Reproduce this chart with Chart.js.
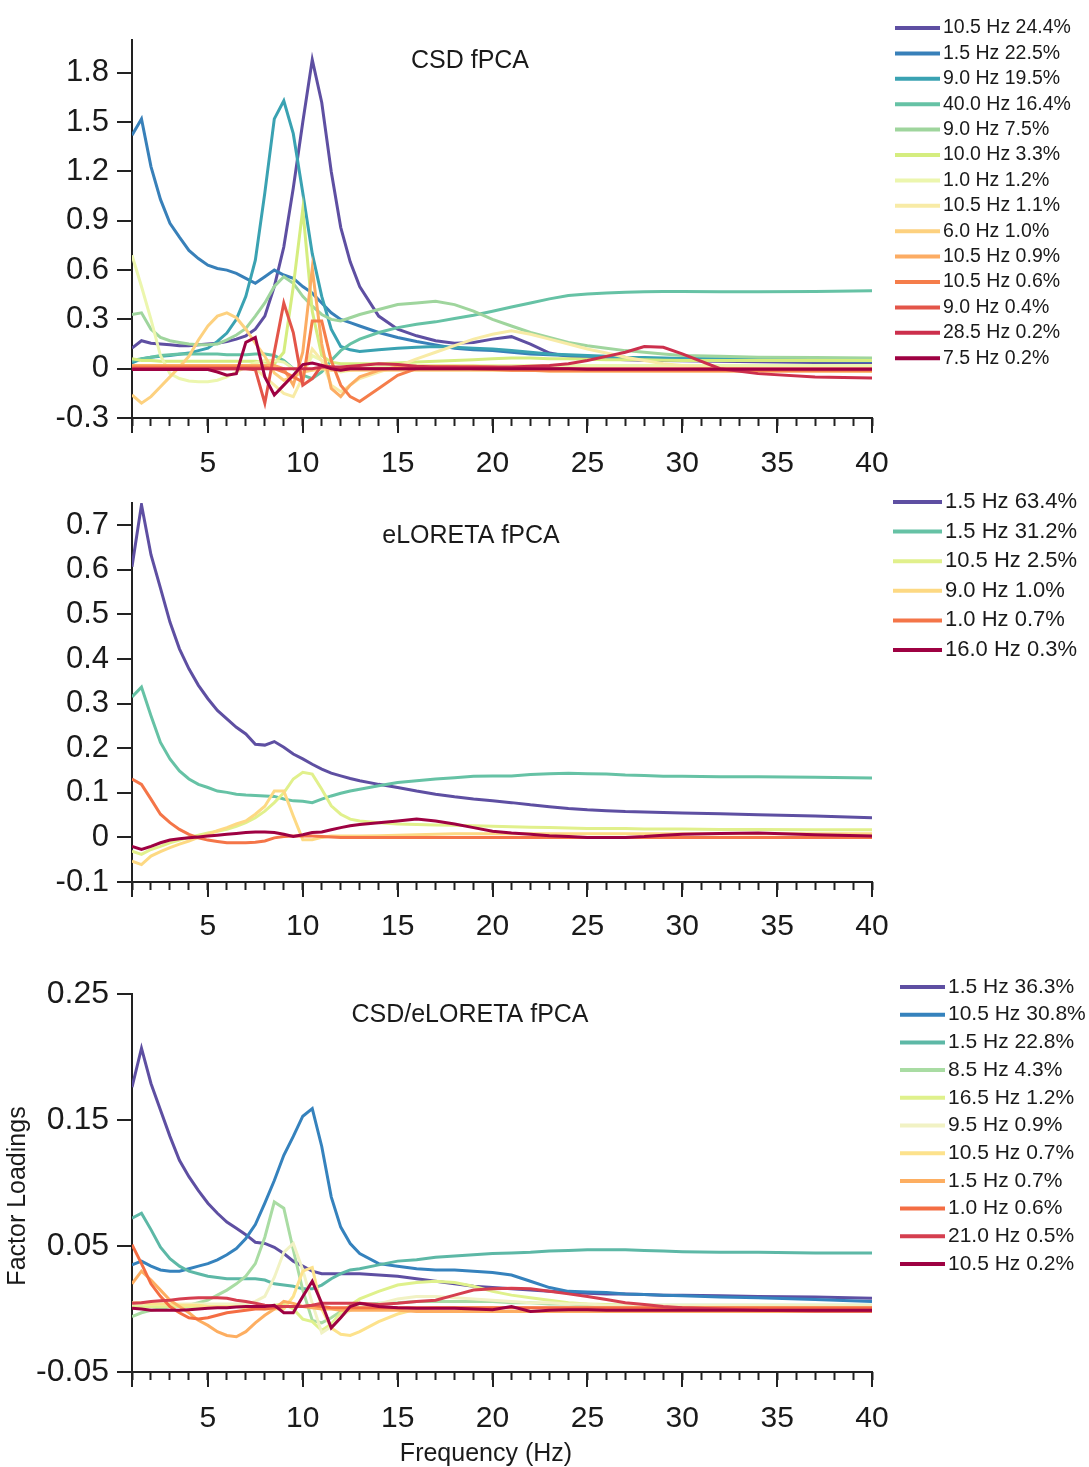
<!DOCTYPE html>
<html>
<head>
<meta charset="utf-8">
<title>fPCA factor loadings</title>
<script src="https://cdn.jsdelivr.net/npm/chart.js@4.4.1/dist/chart.umd.min.js"></script>
<style>
  html, body { margin: 0; padding: 0; background: #fff; }
  body { width: 1089px; height: 1467px; position: relative; overflow: hidden; }
  canvas { position: absolute; left: 0; }
</style>
</head>
<body>
<canvas id="csdChart" width="1089" height="485" style="top:0px"></canvas>
<canvas id="eloretaChart" width="1089" height="460" style="top:485px"></canvas>
<canvas id="bothChart" width="1089" height="522" style="top:945px"></canvas>
<script>
// frequency grid (Hz) shared by all three panels
var freqs = [1,1.5,2,2.5,3,3.5,4,4.5,5,5.5,6,6.5,7,7.5,8,8.5,9,9.5,10,10.5,11,11.5,12,12.5,13,
  14,15,16,17,18,19,20,21,22,23,24,
  25,26,27,28,29,30,32,34,37,40];
var xTickLabels = [5,10,15,20,25,30,35,40];

// ---- panel 1: CSD fPCA ----
var csdTicks = [-0.3,0,0.3,0.6,0.9,1.2,1.5,1.8];
var csdLabels = ["10.5 Hz 24.4%","1.5 Hz 22.5%","9.0 Hz 19.5%","40.0 Hz 16.4%","9.0 Hz 7.5%","10.0 Hz 3.3%","1.0 Hz 1.2%",
  "10.5 Hz 1.1%","6.0 Hz 1.0%","10.5 Hz 0.9%","10.5 Hz 0.6%","9.0 Hz 0.4%","28.5 Hz 0.2%","7.5 Hz 0.2%"];
var csdColors = ['#5e4fa2','#3880b9','#3aa2b2','#66c2a5','#9fd59d','#d5ed7f','#ecf6ae',
  '#f8eba6','#fdd17f','#fcac63','#f57d4a','#e35549','#cc2f4c','#9e0142'];
var csdValues = [
  [0.125,0.17,0.155,0.15,0.145,0.14,0.14,0.145,0.15,0.155,0.165,0.18,0.2,0.24,0.32,0.5,0.74,1.1,1.5,1.88,1.62,1.2,0.86,0.65,0.5,
   0.32,0.24,0.2,0.17,0.155,0.16,0.18,0.195,0.15,0.095,0.075,
   0.065,0.06,0.055,0.052,0.05,0.048,0.045,0.042,0.038,0.035],
  [1.42,1.52,1.23,1.03,0.885,0.8,0.72,0.67,0.63,0.61,0.6,0.58,0.55,0.52,0.56,0.6,0.57,0.55,0.5,0.46,0.4,0.34,0.3,0.28,0.26,
   0.22,0.19,0.165,0.145,0.125,0.115,0.11,0.1,0.09,0.085,0.08,
   0.075,0.07,0.065,0.062,0.06,0.058,0.055,0.05,0.048,0.045],
  [0.035,0.06,0.07,0.075,0.08,0.088,0.095,0.11,0.125,0.166,0.217,0.3,0.44,0.66,1.07,1.52,1.63,1.43,1.07,0.7,0.44,0.24,0.135,0.115,0.105,
   0.115,0.125,0.13,0.135,0.13,0.125,0.12,0.11,0.1,0.09,0.085,
   0.08,0.075,0.07,0.068,0.065,0.062,0.06,0.058,0.055,0.055],
  [0.05,0.06,0.07,0.08,0.085,0.09,0.09,0.09,0.09,0.09,0.085,0.085,0.085,0.09,0.09,0.08,0.05,0.0,-0.04,-0.06,-0.02,0.05,0.11,0.15,0.18,
   0.22,0.25,0.27,0.285,0.305,0.325,0.35,0.375,0.4,0.425,0.445,
   0.455,0.46,0.465,0.468,0.47,0.47,0.468,0.468,0.47,0.475],
  [0.33,0.34,0.24,0.19,0.17,0.16,0.15,0.145,0.145,0.15,0.175,0.205,0.245,0.32,0.4,0.5,0.56,0.52,0.44,0.38,0.33,0.3,0.29,0.31,0.33,
   0.36,0.39,0.4,0.41,0.39,0.35,0.3,0.26,0.22,0.19,0.16,
   0.14,0.125,0.11,0.1,0.09,0.08,0.075,0.07,0.068,0.065],
  [0.06,0.05,0.05,0.045,0.045,0.045,0.045,0.045,0.045,0.045,0.045,0.045,0.045,0.045,0.04,0.03,0.1,0.5,0.97,0.35,0.08,0.04,0.03,0.03,0.03,
   0.03,0.035,0.04,0.045,0.05,0.055,0.06,0.065,0.065,0.06,0.06,
   0.058,0.055,0.055,0.055,0.052,0.05,0.05,0.05,0.05,0.05],
  [0.69,0.5,0.3,0.08,-0.03,-0.06,-0.075,-0.08,-0.08,-0.07,-0.05,-0.02,0.01,0.035,0.05,0.05,0.04,0.0,-0.03,0.08,0.05,0.0,-0.02,-0.01,0.0,
   0.01,0.02,0.02,0.02,0.02,0.02,0.02,0.02,0.02,0.02,0.02,
   0.02,0.02,0.02,0.02,0.02,0.02,0.02,0.02,0.02,0.02],
  [0.02,0.02,0.02,0.02,0.02,0.02,0.02,0.02,0.02,0.02,0.02,0.02,0.02,0.0,-0.05,-0.1,-0.15,-0.17,-0.05,0.12,0.05,-0.1,-0.14,-0.1,-0.06,
   -0.02,0.015,0.06,0.1,0.14,0.18,0.21,0.23,0.21,0.18,0.15,
   0.12,0.095,0.07,0.05,0.03,0.02,0.005,-0.005,-0.012,-0.016],
  [-0.16,-0.21,-0.17,-0.11,-0.05,0.01,0.075,0.175,0.26,0.32,0.34,0.31,0.24,0.155,0.075,-0.026,-0.07,-0.05,-0.02,-0.01,0.0,-0.01,-0.01,-0.01,-0.01,
   -0.01,-0.01,-0.01,-0.01,-0.01,-0.01,-0.01,-0.01,-0.01,-0.01,-0.01,
   -0.01,-0.01,-0.01,-0.01,-0.01,-0.01,-0.01,-0.01,-0.01,-0.01],
  [0.02,0.02,0.02,0.02,0.02,0.02,0.02,0.02,0.02,0.02,0.02,0.02,0.02,0.02,0.02,0.02,0.0,-0.1,0.1,0.61,0.15,-0.12,-0.17,-0.1,-0.05,
   -0.01,0.01,0.015,0.015,0.015,0.015,0.01,0.0,-0.01,-0.015,-0.015,
   -0.015,-0.015,-0.015,-0.015,-0.015,-0.015,-0.015,-0.015,-0.015,-0.015],
  [0.01,0.01,0.01,0.01,0.01,0.01,0.01,0.01,0.01,0.01,0.01,0.01,0.01,0.01,0.01,0.0,-0.02,-0.05,-0.08,0.29,0.29,0.05,-0.1,-0.17,-0.2,
   -0.12,-0.04,0.0,0.01,0.01,0.0,-0.005,-0.01,-0.01,-0.01,-0.01,
   -0.01,-0.01,-0.01,-0.01,-0.01,-0.01,-0.01,-0.01,-0.01,-0.01],
  [0,0,0,0,0,0,0,0,0,0,0,0,0,-0.006,-0.21,0.1,0.4,0.22,-0.1,-0.06,0.02,0.01,0,0,0,
   0,0,0,0,0,0,0,0,0,0,0,
   0,0,0,0,0,0,0,0,0,0],
  [0,0,0,0,0,0,0,0,0,0,0,0,0,0,0,0,0,0,0,0,0.01,0.01,0.01,0.015,0.02,
   0.03,0.025,0.015,0.01,0.01,0.01,0.01,0.01,0.015,0.02,0.03,
   0.05,0.075,0.1,0.135,0.13,0.09,0.0,-0.03,-0.05,-0.057],
  [-0.005,-0.005,-0.005,-0.005,-0.005,-0.005,-0.005,-0.005,-0.005,-0.02,-0.04,-0.03,0.16,0.19,-0.05,-0.16,-0.1,-0.04,0.025,0.035,0.02,0.0,-0.01,0.0,0.0,
   0,0,0,0,0,0,0,0,0,0,0,
   -0.004,-0.004,-0.004,-0.004,-0.004,-0.004,-0.004,-0.004,-0.004,-0.004]
];

// ---- panel 2: eLORETA fPCA ----
var eloTicks = [-0.1,0,0.1,0.2,0.3,0.4,0.5,0.6,0.7];
var eloLabels = ["1.5 Hz 63.4%","1.5 Hz 31.2%","10.5 Hz 2.5%","9.0 Hz 1.0%","1.0 Hz 0.7%","16.0 Hz 0.3%"];
var eloColors = ['#5e4fa2','#66c2a5','#e1f08c','#fdd983','#f47548','#9e0142'];
var eloValues = [
  [0.607,0.746,0.634,0.559,0.483,0.423,0.378,0.341,0.311,0.285,0.266,0.247,0.232,0.209,0.207,0.215,0.202,0.187,0.176,0.164,0.153,0.144,0.138,0.132,0.127,
   0.119,0.112,0.104,0.097,0.091,0.086,0.082,0.078,0.073,0.069,0.065,
   0.062,0.06,0.058,0.057,0.056,0.055,0.053,0.051,0.048,0.044],
  [0.315,0.337,0.273,0.213,0.176,0.149,0.131,0.119,0.112,0.104,0.101,0.097,0.095,0.094,0.093,0.092,0.086,0.082,0.081,0.078,0.086,0.093,0.099,0.104,0.108,
   0.116,0.123,0.127,0.131,0.134,0.137,0.138,0.138,0.141,0.143,0.144,
   0.143,0.142,0.14,0.139,0.137,0.137,0.136,0.136,0.135,0.133],
  [-0.031,-0.038,-0.027,-0.02,-0.012,-0.006,0.0,0.005,0.01,0.014,0.018,0.025,0.033,0.044,0.059,0.078,0.1,0.131,0.146,0.142,0.108,0.071,0.052,0.041,0.037,
   0.033,0.03,0.029,0.028,0.027,0.026,0.025,0.024,0.023,0.022,0.021,
   0.02,0.02,0.02,0.019,0.019,0.019,0.018,0.018,0.017,0.017],
  [-0.053,-0.061,-0.042,-0.032,-0.023,-0.015,-0.008,0.0,0.007,0.015,0.022,0.03,0.037,0.052,0.07,0.104,0.104,0.048,-0.005,-0.005,0.0,0.003,0.003,0.003,0.003,
   0.004,0.005,0.006,0.007,0.008,0.008,0.008,0.008,0.008,0.008,0.008,
   0.008,0.008,0.008,0.008,0.008,0.008,0.008,0.008,0.008,0.008],
  [0.131,0.119,0.086,0.052,0.033,0.018,0.007,-0.001,-0.006,-0.009,-0.012,-0.012,-0.012,-0.011,-0.008,-0.001,0.002,0.003,0.003,0.003,0.002,0.001,0,0,0,
   0,0,0,0,0,0,0,0,0,0,0,
   0,0,0,0,0,0,0,0,0,0],
  [-0.02,-0.027,-0.02,-0.012,-0.006,-0.003,-0.001,0.001,0.003,0.005,0.007,0.009,0.011,0.012,0.012,0.011,0.007,0.002,0.006,0.011,0.012,0.017,0.022,0.026,0.029,
   0.033,0.037,0.041,0.037,0.03,0.022,0.014,0.01,0.007,0.004,0.002,
   0,0,0,0.002,0.005,0.007,0.009,0.01,0.006,0.003]
];

// ---- panel 3: CSD/eLORETA fPCA ----
var bothTicks = [-0.05,0.05,0.15,0.25];
var bothLabels = ["1.5 Hz 36.3%","10.5 Hz 30.8%","1.5 Hz 22.8%","8.5 Hz 4.3%","16.5 Hz 1.2%","9.5 Hz 0.9%",
  "10.5 Hz 0.7%","1.5 Hz 0.7%","1.0 Hz 0.6%","21.0 Hz 0.5%","10.5 Hz 0.2%"];
var bothColors = ['#5e4fa2','#3582bd','#5db8a6','#a9dca3','#dff18c','#f1f2c4','#fde28c','#fdae61','#f46d43','#d53e4f','#9e0142'];
var bothValues = [
  [0.176,0.207,0.179,0.158,0.137,0.118,0.105,0.094,0.084,0.076,0.069,0.064,0.059,0.053,0.052,0.049,0.044,0.038,0.034,0.03,0.028,0.028,0.028,0.028,0.028,
   0.027,0.026,0.024,0.022,0.02,0.018,0.017,0.016,0.015,0.014,0.013,
   0.0125,0.012,0.012,0.0115,0.011,0.011,0.0105,0.01,0.0095,0.0085],
  [0.035,0.038,0.034,0.031,0.03,0.03,0.032,0.034,0.036,0.039,0.043,0.048,0.056,0.067,0.084,0.102,0.122,0.137,0.153,0.159,0.129,0.089,0.065,0.052,0.044,
   0.036,0.034,0.032,0.031,0.031,0.03,0.029,0.027,0.022,0.017,0.014,
   0.0135,0.013,0.012,0.0115,0.011,0.0105,0.0095,0.009,0.0075,0.006],
  [0.072,0.076,0.063,0.049,0.04,0.034,0.03,0.028,0.026,0.025,0.024,0.024,0.024,0.024,0.023,0.02,0.019,0.018,0.016,0.016,0.019,0.024,0.028,0.031,0.032,
   0.035,0.038,0.039,0.041,0.042,0.043,0.044,0.0445,0.045,0.046,0.0465,
   0.047,0.047,0.047,0.0465,0.046,0.0455,0.045,0.045,0.0445,0.0445],
  [-0.006,-0.003,-0.001,0.0,0.002,0.002,0.003,0.005,0.007,0.011,0.015,0.02,0.026,0.036,0.057,0.085,0.08,0.047,0.015,-0.009,-0.011,-0.007,-0.002,0.001,0.003,
   0.0045,0.005,0.006,0.006,0.006,0.006,0.006,0.005,0.005,0.004,0.004,
   0.003,0.003,0.003,0.003,0.003,0.003,0.003,0.003,0.003,0.003],
  [0.002,0.002,0.002,0.002,0.002,0.002,0.002,0.002,0.002,0.002,0.002,0.002,0.002,0.002,0.002,0.003,0.004,0.0,-0.008,-0.01,-0.017,-0.012,-0.003,0.003,0.008,
   0.014,0.019,0.021,0.022,0.021,0.018,0.014,0.011,0.009,0.007,0.005,
   0.004,0.0035,0.003,0.0025,0.002,0.002,0.002,0.002,0.002,0.002],
  [0.004,0.004,0.004,0.004,0.004,0.004,0.004,0.004,0.004,0.004,0.004,0.004,0.004,0.006,0.01,0.025,0.045,0.052,0.031,0.0045,-0.019,-0.014,-0.006,-0.001,0.002,
   0.004,0.008,0.01,0.01,0.009,0.008,0.007,0.006,0.005,0.005,0.004,
   0.004,0.003,0.003,0.003,0.003,0.003,0.003,0.003,0.003,0.003],
  [0.005,0.005,0.004,0.004,0.004,0.003,0.003,0.003,0.002,0.002,0.002,0.002,0.001,0.001,0.0,0.0,0.0,0.01,0.03,0.033,0.0,-0.015,-0.02,-0.021,-0.018,
   -0.01,-0.004,0.0,0.001,0.001,0.001,0.001,0.001,0.001,0.001,0.001,
   0.001,0.001,0.001,0.001,0.001,0.001,0.001,0.001,0.001,0.001],
  [0.02,0.03,0.023,0.015,0.007,0.002,-0.003,-0.009,-0.013,-0.018,-0.021,-0.022,-0.018,-0.011,-0.005,0.0,0.006,0.0045,0.002,0.001,0.0,0.0,-0.001,-0.001,-0.001,
   -0.001,-0.001,-0.002,-0.002,-0.002,-0.002,-0.002,-0.002,-0.002,-0.002,-0.002,
   -0.002,-0.002,-0.002,-0.002,-0.002,-0.002,-0.002,-0.002,-0.002,-0.002],
  [0.051,0.036,0.02,0.01,0.002,-0.003,-0.007,-0.008,-0.007,-0.005,-0.003,-0.002,-0.001,0.0,0.0,0.001,0.002,0.002,0.002,0.003,0.002,0.001,0.001,0.001,0.001,
   0.001,0.001,0.001,0.001,0.001,0.001,0.001,0.001,0.001,0.001,0.001,
   0.001,0.001,0.001,0.001,0.001,0.001,0.001,0.001,0.001,0.001],
  [0.0045,0.005,0.006,0.0065,0.007,0.008,0.0085,0.009,0.009,0.009,0.0085,0.007,0.006,0.0045,0.003,0.002,0.002,0.002,0.002,0.003,0.0045,0.0045,0.0045,0.0045,0.0045,
   0.0035,0.0045,0.006,0.007,0.011,0.015,0.016,0.0165,0.016,0.014,0.012,
   0.01,0.0075,0.005,0.0035,0.002,0.001,0.0,-0.001,-0.0015,-0.0015],
  [0.0005,0.0,-0.001,-0.001,-0.001,-0.001,-0.0005,0.0,0.0005,0.001,0.001,0.0015,0.002,0.002,0.002,0.003,-0.003,-0.003,0.01,0.022,0.0045,-0.015,-0.007,0.002,0.0045,
   0.002,0.001,0.0005,0.0005,0.0005,0.0,-0.0005,0.002,-0.002,-0.001,-0.0005,
   -0.0005,-0.001,-0.001,-0.001,-0.001,-0.001,-0.001,-0.001,-0.001,-0.001]
];

var FONT = "'Liberation Sans', Arial, sans-serif";
var INK = '#1a1a1a';
Chart.defaults.font.family = FONT;
Chart.defaults.color = INK;

function makeDatasets(labels, colors, values) {
  return values.map(function(v, i) {
    return {
      label: labels[i],
      data: v,
      borderColor: colors[i],
      backgroundColor: colors[i],
      borderWidth: 3,
      pointRadius: 0,
      tension: 0,
      fill: false,
      order: -i   // later components drawn on top
    };
  });
}

// titles, axis titles and the line legend are drawn after the chart
function decor(texts, lg) {
  return {
    id: 'decor',
    afterDraw: function(chart) {
      var ctx = chart.ctx;
      ctx.save();
      ctx.fillStyle = INK;
      ctx.textBaseline = 'middle';
      texts.forEach(function(t) {
        ctx.save();
        ctx.font = t.size + 'px ' + FONT;
        ctx.textAlign = 'center';
        ctx.translate(t.x, t.y);
        if (t.rotate) ctx.rotate(t.rotate);
        ctx.fillText(t.text, 0, 0);
        ctx.restore();
      });
      chart.data.datasets.forEach(function(ds, i) {
        var y = lg.y + i * lg.gap;
        ctx.strokeStyle = ds.borderColor;
        ctx.lineWidth = 4;
        ctx.beginPath();
        ctx.moveTo(lg.x, y);
        ctx.lineTo(lg.x + lg.len, y);
        ctx.stroke();
        ctx.font = lg.size + 'px ' + FONT;
        ctx.textAlign = 'left';
        ctx.fillText(ds.label, lg.x + lg.len + 3, y);
      });
      ctx.restore();
    }
  };
}

function scalesFor(yMin, yMax, yTicks, decimals, yFont, xHeight, xPad) {
  return {
    xMinor: {
      axis: 'x', type: 'linear', position: 'bottom', weight: 0,
      min: 1, max: 40,
      ticks: { display: false, stepSize: 1, maxTicksLimit: 100 },
      grid: { drawOnChartArea: false, drawTicks: true, tickLength: 8, tickWidth: 2, tickColor: '#222' },
      border: { display: false },
      afterFit: function(s) { s.height = 0; s.paddingLeft = 0; s.paddingRight = 0; }
    },
    x: {
      type: 'linear', position: 'bottom', weight: 1,
      min: 1, max: 40,
      afterBuildTicks: function(s) {
        s.ticks = [1].concat(xTickLabels).map(function(v) { return { value: v }; });
      },
      ticks: {
        autoSkip: false, maxRotation: 0, padding: xPad,
        font: { size: 30 }, color: INK,
        callback: function(v) { return xTickLabels.indexOf(v) >= 0 ? String(v) : ''; }
      },
      grid: { drawOnChartArea: false, drawTicks: true, tickLength: 15, tickWidth: 2, lineWidth: 2, tickColor: '#222' },
      border: { display: true, color: '#222', width: 2 },
      afterFit: function(s) { s.height = xHeight; s.paddingLeft = 0; s.paddingRight = 0; }
    },
    y: {
      type: 'linear', min: yMin, max: yMax,
      afterBuildTicks: function(s) {
        s.ticks = yTicks.map(function(v) { return { value: v }; });
      },
      ticks: {
        padding: 8, font: { size: yFont }, color: INK,
        callback: function(v) { return v === 0 ? '0' : v.toFixed(decimals); }
      },
      grid: { drawOnChartArea: false, drawTicks: true, tickLength: 15, tickWidth: 2, lineWidth: 2, tickColor: '#222' },
      border: { display: true, color: '#222', width: 2 },
      afterFit: function(s) { s.width = 132; s.paddingTop = 0; s.paddingBottom = 0; }
    }
  };
}

function panel(id, labels, colors, values, scales, pad, texts, lg) {
  return new Chart(document.getElementById(id), {
    type: 'line',
    data: { labels: freqs, datasets: makeDatasets(labels, colors, values) },
    options: {
      responsive: false,
      animation: false,
      layout: { padding: pad },
      plugins: { legend: { display: false }, tooltip: { enabled: false } },
      scales: scales
    },
    plugins: [decor(texts, lg)]
  });
}

panel('csdChart', csdLabels, csdColors, csdValues,
  scalesFor(-0.3, 2.0, csdTicks, 1, 31, 67, 13),
  { left: 0, right: 217, top: 40, bottom: 0 },
  [{ text: 'CSD fPCA', x: 470, y: 61, size: 25 }],
  { x: 895, y: 28, gap: 25.4, len: 45, size: 19.5 });

panel('eloretaChart', eloLabels, eloColors, eloValues,
  scalesFor(-0.1, 0.75, eloTicks, 1, 31, 63, 12),
  { left: 0, right: 217, top: 18, bottom: 0 },
  [{ text: 'eLORETA fPCA', x: 471, y: 51, size: 25 }],
  { x: 893, y: 17, gap: 29.6, len: 49, size: 22 });

panel('bothChart', bothLabels, bothColors, bothValues,
  scalesFor(-0.05, 0.25, bothTicks, 2, 32, 95, 14),
  { left: 0, right: 217, top: 49, bottom: 0 },
  [{ text: 'CSD/eLORETA fPCA', x: 470, y: 70, size: 25 },
   { text: 'Frequency (Hz)', x: 486, y: 509, size: 25 },
   { text: 'Factor Loadings', x: 18, y: 251, size: 25, rotate: -Math.PI / 2 }],
  { x: 900, y: 42, gap: 27.7, len: 45, size: 21 });
</script>
</body>
</html>
